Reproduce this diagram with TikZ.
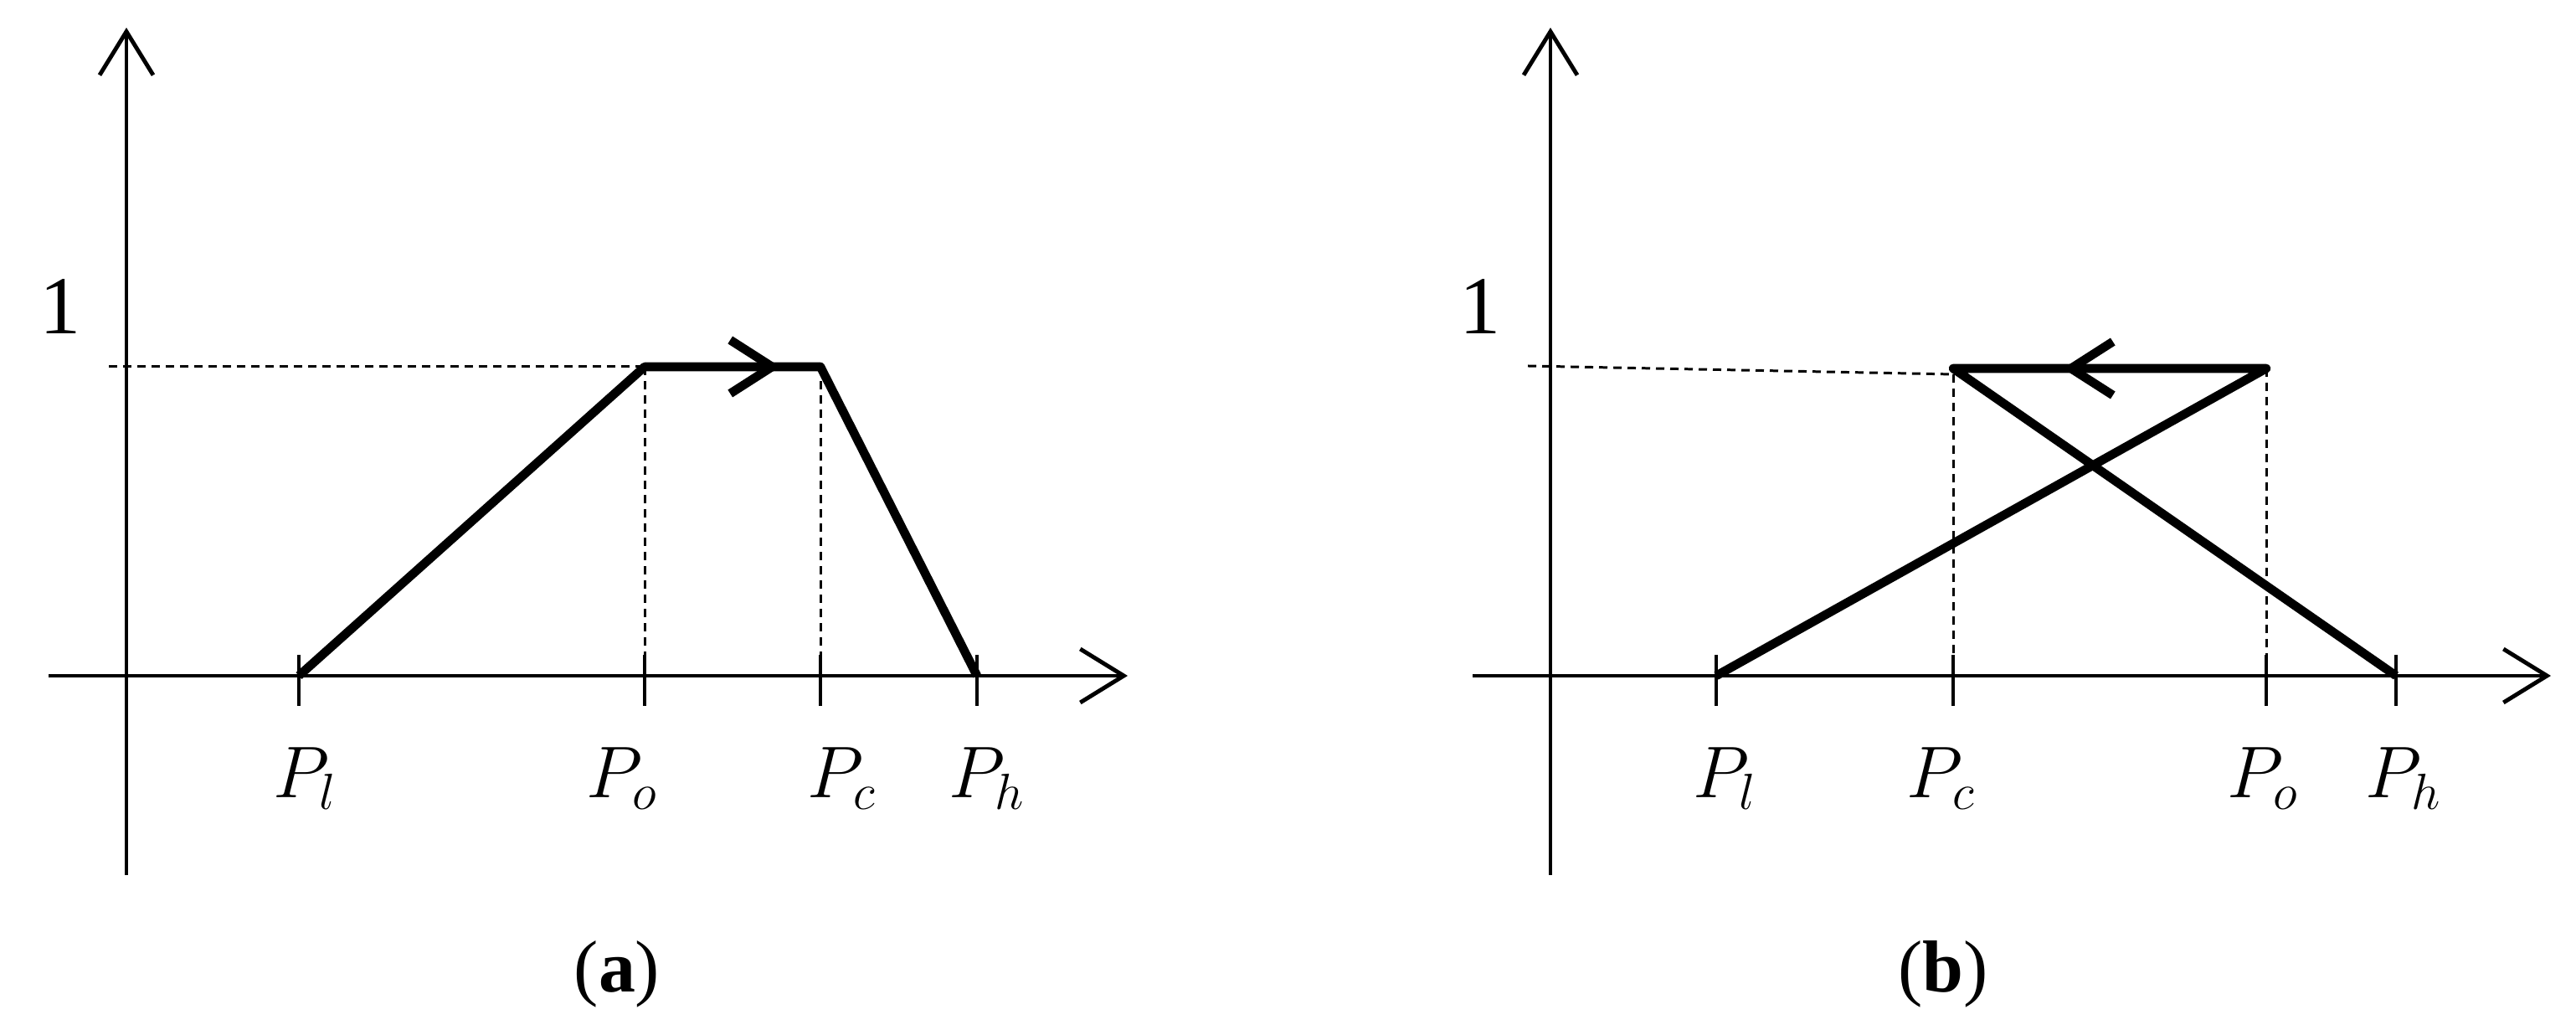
\documentclass[tikz,border=0pt]{standalone}
\usepackage{fontspec}
\setmainfont{Liberation Serif}
\usetikzlibrary{arrows.meta,positioning}

\tikzset{
  axisline/.style={line width=1.4pt, -{Straight Barb[length=0.52cm,width=0.64cm]}},
  tickline/.style={line width=1.4pt},
  guideline/.style={line width=0.85pt, dash pattern=on 0.1cm off 0.07cm},
  curveline/.style={line width=3pt, line join=round},
  dirarrow/.style={line width=3pt, -{Straight Barb[length=0.5cm,width=0.64cm]}},
  plabel/.style={anchor=base, inner sep=0pt, font=\fontsize{26}{30}\selectfont},
  onelabel/.style={inner sep=0pt, font=\fontsize{28}{32}\selectfont},
  caplabel/.style={inner sep=0pt, font=\fontsize{25}{30}\selectfont}
}

\begin{document}
\begin{tikzpicture}
  \useasboundingbox (0,0) rectangle (30.77,12.30);

  % (a) opening before closing
  \begin{scope}[shift={(1.51,4.23)}]
    \coordinate (a-ybot) at (0,-2.38);
    \coordinate (a-ytop) at (0,7.74);
    \coordinate (a-xleft) at (-0.93,0);
    \coordinate (a-xright) at (11.96,0);
    \draw[axisline] (a-ybot) -- (a-ytop);
    \draw[axisline] (a-xleft) -- (a-xright);

    % Ticks on the pressure axis
    \foreach \n/\x in {l/2.06, o/6.19, c/8.29, h/10.16} {
      \coordinate (a-\n) at (\x,0);
      \draw[tickline] ([yshift=2.5mm]a-\n) -- ([yshift=-3.6mm]a-\n);
    }

    % Level 1 and guides
    \coordinate (a-lvl) at (-0.21,3.69);
    \coordinate (a-otop) at (6.19,3.69);
    \coordinate (a-ctop) at (8.29,3.69);
    \coordinate (a-tip) at (7.81,3.69);
    \draw[guideline] (a-lvl) -- (a-otop);
    \draw[guideline] (a-otop) -- (a-o);
    \draw[guideline] (a-ctop) -- (a-c);

    % Characteristic
    \draw[curveline] (a-l) -- (a-otop) -- (a-ctop) -- (a-h);
    \draw[dirarrow] (a-otop) -- (a-tip);

    % Labels
    \node[onelabel] (a-one) at (-0.79,4.41) {1};
    \node[plabel] (a-labl) at (2.13,-1.46) {$P_l$};
    \node[plabel] (a-labo) at (5.92,-1.46) {$P_o$};
    \node[plabel] (a-labc) at (8.55,-1.46) {$P_c$};
    \node[plabel] (a-labh) at (10.28,-1.46) {$P_h$};
    \node[caplabel] (a-cap) at (5.86,-3.56) {(\textbf{a})};
  \end{scope}

  % (b) closing before opening
  \begin{scope}[shift={(18.52,4.23)}]
    \coordinate (b-ybot) at (0,-2.38);
    \coordinate (b-ytop) at (0,7.74);
    \coordinate (b-xleft) at (-0.93,0);
    \coordinate (b-xright) at (11.95,0);
    \draw[axisline] (b-ybot) -- (b-ytop);
    \draw[axisline] (b-xleft) -- (b-xright);

    % Ticks on the pressure axis
    \foreach \n/\x in {l/1.98, c/4.81, o/8.55, h/10.10} {
      \coordinate (b-\n) at (\x,0);
      \draw[tickline] ([yshift=2.5mm]b-\n) -- ([yshift=-3.6mm]b-\n);
    }

    % Level 1 and guides
    \coordinate (b-lvl) at (-0.27,3.70);
    \coordinate (b-cdash) at (4.81,3.60);
    \coordinate (b-ctop) at (4.81,3.67);
    \coordinate (b-otop) at (8.55,3.67);
    \coordinate (b-tip) at (6.12,3.67);
    \draw[guideline] (b-lvl) -- (b-cdash);
    \draw[guideline] (b-cdash) -- (b-c);
    \draw[guideline] (b-otop) -- (b-o);

    % Characteristic
    \draw[curveline] (b-l) -- (b-otop) -- (b-ctop) -- (b-h);
    \draw[dirarrow] (b-otop) -- (b-tip);

    % Labels
    \node[onelabel] (b-one) at (-0.84,4.41) {1};
    \node[plabel] (b-labl) at (2.08,-1.46) {$P_l$};
    \node[plabel] (b-labc) at (4.67,-1.46) {$P_c$};
    \node[plabel] (b-labo) at (8.51,-1.46) {$P_o$};
    \node[plabel] (b-labh) at (10.19,-1.46) {$P_h$};
    \node[caplabel] (b-cap) at (4.69,-3.56) {(\textbf{b})};
  \end{scope}
\end{tikzpicture}
\end{document}
